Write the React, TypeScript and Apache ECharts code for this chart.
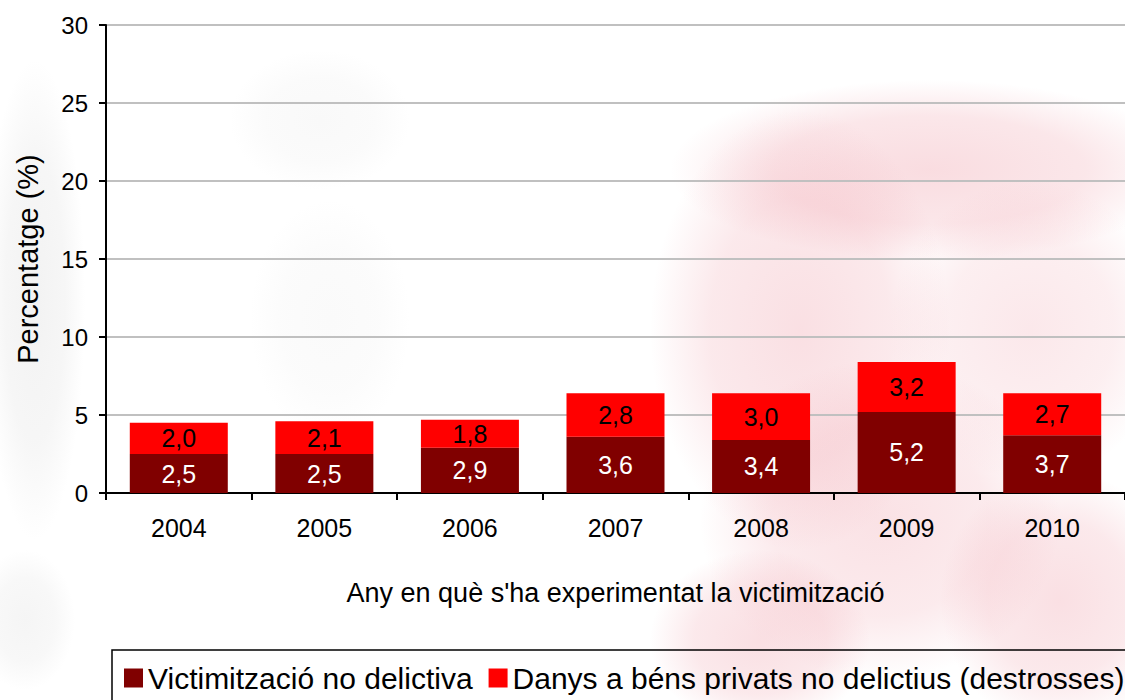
import React, { useEffect, useRef } from "react";
import * as echarts from "echarts";

const years = ["2004", "2005", "2006", "2007", "2008", "2009", "2010"];
const noDelictiva = [2.5, 2.5, 2.9, 3.6, 3.4, 5.2, 3.7];
const danysPrivats = [2.0, 2.1, 1.8, 2.8, 3.0, 3.2, 2.7];
const seriesNames = [
  "Victimització no delictiva",
  "Danys a béns privats no delictius (destrosses)",
];
const yTicks = { min: 0, max: 30, interval: 5 };

const FONT = "'Liberation Sans', Arial, sans-serif";

const fmt = (v: number) => v.toFixed(1).replace(".", ",");

function blob(cx: number, cy: number, rx: number, ry: number, color: string, a: number) {
  return {
    type: "ellipse",
    z: -10,
    silent: true,
    shape: { cx, cy, rx, ry },
    style: {
      fill: {
        type: "radial",
        x: 0.5,
        y: 0.5,
        r: 0.5,
        colorStops: [
          { offset: 0, color: `rgba(${color},${a})` },
          { offset: 0.6, color: `rgba(${color},${a * 0.7})` },
          { offset: 1, color: `rgba(${color},0)` },
        ],
      },
    },
  };
}

export default function App() {
  const ref = useRef<HTMLDivElement>(null);
  useEffect(() => {
    if (!ref.current) return;
    const chart = echarts.init(ref.current, undefined, { renderer: "svg" });
    const pink = "238,150,162";
    const grey = "205,205,205";
    chart.setOption({
      animation: false,
      backgroundColor: "#ffffff",
      textStyle: { fontFamily: FONT },
      graphic: [
        blob(930, 170, 260, 90, pink, 0.33),
        blob(800, 330, 150, 220, pink, 0.3),
        blob(1030, 330, 140, 150, pink, 0.22),
        blob(880, 520, 180, 160, pink, 0.28),
        blob(1060, 600, 120, 130, pink, 0.3),
        blob(760, 640, 110, 90, pink, 0.3),
        blob(35, 300, 50, 240, grey, 0.25),
        blob(320, 120, 90, 70, grey, 0.12),
        blob(330, 320, 80, 120, grey, 0.1),
        blob(25, 620, 50, 70, grey, 0.2),
      ],
      grid: { left: 106, right: -8, top: 25, bottom: 207, containLabel: false },
      legend: {
        left: 112,
        top: 650,
        width: 1200,
        itemWidth: 19,
        itemHeight: 19,
        itemGap: 16,
        icon: "rect",
        borderColor: "#000",
        borderWidth: 1.5,
        borderRadius: 0,
        padding: [13, 11, 20, 12],
        textStyle: { fontSize: 30, color: "#000", fontFamily: FONT },
        data: seriesNames,
      },
      xAxis: {
        type: "category",
        data: years,
        name: "Any en què s'ha experimentat la victimització",
        nameLocation: "middle",
        nameGap: 86,
        nameTextStyle: { fontSize: 27, color: "#000", fontFamily: FONT },
        axisLine: { lineStyle: { color: "#000", width: 2 } },
        axisTick: { show: true, length: 7, lineStyle: { color: "#000", width: 2 } },
        axisLabel: { fontSize: 25, color: "#000", margin: 22, fontFamily: FONT },
        splitLine: { show: false },
      },
      yAxis: {
        type: "value",
        min: yTicks.min,
        max: yTicks.max,
        interval: yTicks.interval,
        name: "Percentatge (%)",
        nameLocation: "middle",
        nameGap: 64,
        nameTextStyle: { fontSize: 29, color: "#000", fontFamily: FONT },
        axisLine: { show: true, lineStyle: { color: "#000", width: 2 } },
        axisTick: { show: true, length: 7, lineStyle: { color: "#000", width: 2 } },
        axisLabel: { fontSize: 24, color: "#000", margin: 18, fontFamily: FONT },
        splitLine: { show: true, lineStyle: { color: "#c0c0c0", width: 2 } },
      },
      series: [
        {
          name: seriesNames[0],
          type: "bar",
          stack: "total",
          data: noDelictiva,
          barWidth: 98,
          itemStyle: { color: "#800000" },
          label: {
            show: true,
            position: "inside",
            color: "#fff",
            fontSize: 25,
            fontFamily: FONT,
            formatter: (p: any) => fmt(p.value),
          },
        },
        {
          name: seriesNames[1],
          type: "bar",
          stack: "total",
          data: danysPrivats,
          barWidth: 98,
          itemStyle: { color: "#ff0000" },
          label: {
            show: true,
            position: "inside",
            color: "#000",
            fontSize: 25,
            fontFamily: FONT,
            formatter: (p: any) => fmt(p.value),
          },
        },
      ],
    });
    return () => chart.dispose();
  }, []);
  return (
    <div
      ref={ref}
      style={{ position: "fixed", left: 0, top: 0, width: 1125, height: 700 }}
    />
  );
}
